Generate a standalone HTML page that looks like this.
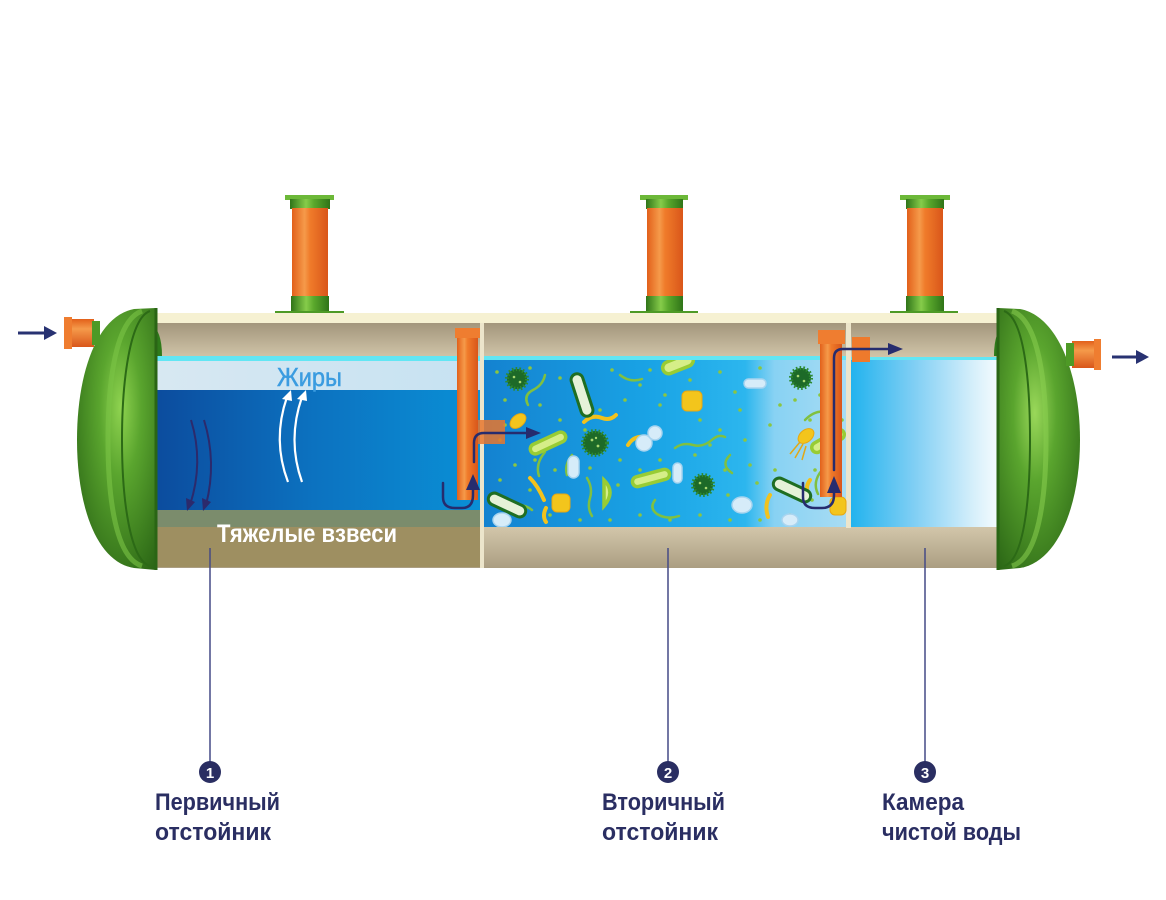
<!DOCTYPE html>
<html>
<head>
<meta charset="utf-8">
<style>
html,body{margin:0;padding:0;background:#fff;}
svg{display:block;}
</style>
</head>
<body>
<svg width="1166" height="900" viewBox="0 0 1166 900" xmlns="http://www.w3.org/2000/svg">
<defs>
  <linearGradient id="wallTop" x1="0" y1="0" x2="0" y2="1">
    <stop offset="0" stop-color="#a3967c"/>
    <stop offset="1" stop-color="#d3c7ab"/>
  </linearGradient>
  <linearGradient id="wallBot" x1="0" y1="0" x2="0" y2="1">
    <stop offset="0" stop-color="#d2c6aa"/>
    <stop offset="1" stop-color="#ab9e82"/>
  </linearGradient>
  <linearGradient id="w1" x1="0" y1="0" x2="1" y2="0">
    <stop offset="0" stop-color="#0c4a9c"/>
    <stop offset="0.5" stop-color="#0c72c0"/>
    <stop offset="1" stop-color="#0a90d6"/>
  </linearGradient>
  <linearGradient id="fat" x1="0" y1="0" x2="1" y2="0">
    <stop offset="0" stop-color="#d8e8f2"/>
    <stop offset="1" stop-color="#c6e2f2"/>
  </linearGradient>
  <linearGradient id="w2" x1="0" y1="0" x2="1" y2="0">
    <stop offset="0" stop-color="#1482d0"/>
    <stop offset="0.45" stop-color="#19a3e5"/>
    <stop offset="0.72" stop-color="#2cb6ee"/>
    <stop offset="0.8" stop-color="#88d2f3"/>
    <stop offset="1" stop-color="#a8dcf3"/>
  </linearGradient>
  <linearGradient id="w3" x1="0" y1="0" x2="1" y2="0">
    <stop offset="0" stop-color="#22b3ee"/>
    <stop offset="0.4" stop-color="#7ecef4"/>
    <stop offset="0.8" stop-color="#d8f0fb"/>
    <stop offset="1" stop-color="#ffffff"/>
  </linearGradient>
  <linearGradient id="orV" x1="0" y1="0" x2="1" y2="0">
    <stop offset="0" stop-color="#e2601a"/>
    <stop offset="0.35" stop-color="#f59a4a"/>
    <stop offset="0.5" stop-color="#f07b2a"/>
    <stop offset="1" stop-color="#d9561a"/>
  </linearGradient>
  <linearGradient id="orH" x1="0" y1="0" x2="0" y2="1">
    <stop offset="0" stop-color="#e2601a"/>
    <stop offset="0.35" stop-color="#f59a4a"/>
    <stop offset="1" stop-color="#d9561a"/>
  </linearGradient>
  <linearGradient id="grV" x1="0" y1="0" x2="1" y2="0">
    <stop offset="0" stop-color="#2f7418"/>
    <stop offset="0.4" stop-color="#86cc4a"/>
    <stop offset="0.6" stop-color="#5aa82c"/>
    <stop offset="1" stop-color="#2f7418"/>
  </linearGradient>
  <radialGradient id="capL" cx="0.55" cy="0.38" r="0.75">
    <stop offset="0" stop-color="#8fd350"/>
    <stop offset="0.35" stop-color="#5aa52e"/>
    <stop offset="1" stop-color="#2a6515"/>
  </radialGradient>
  <radialGradient id="capR" cx="0.45" cy="0.4" r="0.75">
    <stop offset="0" stop-color="#9ad85a"/>
    <stop offset="0.35" stop-color="#5aa52e"/>
    <stop offset="1" stop-color="#2a6515"/>
  </radialGradient>
  <clipPath id="c2"><rect x="484" y="360" width="363" height="167"/></clipPath>
</defs>

<!-- ===== top pipes ===== -->
<g>
  <rect x="285" y="195" width="49" height="5" fill="#6cb838"/>
  <rect x="290" y="199" width="40" height="10" fill="url(#grV)"/>
  <rect x="292" y="208" width="36" height="90" fill="url(#orV)"/>
  <rect x="291" y="296" width="38" height="17" fill="url(#grV)"/>
  <rect x="275" y="311" width="69" height="7" fill="#4e9a26"/>

  <rect x="640" y="195" width="48" height="5" fill="#6cb838"/>
  <rect x="646" y="199" width="37" height="10" fill="url(#grV)"/>
  <rect x="647" y="208" width="36" height="90" fill="url(#orV)"/>
  <rect x="646" y="296" width="37" height="17" fill="url(#grV)"/>
  <rect x="630" y="311" width="68" height="7" fill="#4e9a26"/>

  <rect x="900" y="195" width="50" height="5" fill="#6cb838"/>
  <rect x="906" y="199" width="38" height="10" fill="url(#grV)"/>
  <rect x="907" y="208" width="36" height="90" fill="url(#orV)"/>
  <rect x="906" y="296" width="38" height="17" fill="url(#grV)"/>
  <rect x="890" y="311" width="68" height="7" fill="#4e9a26"/>
</g>

<!-- ===== tank body ===== -->
<rect x="140" y="313" width="870" height="10" fill="#f6f1d2"/>
<rect x="140" y="323" width="870" height="36" fill="url(#wallTop)"/>
<rect x="140" y="527" width="870" height="41" fill="url(#wallBot)"/>

<!-- chamber 1 -->
<rect x="148" y="356" width="332" height="5" fill="#62e6f4"/>
<rect x="148" y="361" width="332" height="29" fill="url(#fat)"/>
<rect x="148" y="390" width="332" height="120" fill="url(#w1)"/>
<rect x="148" y="510" width="332" height="17" fill="#7b8c6c"/>
<rect x="148" y="527" width="332" height="40" fill="#9e8f61"/>

<!-- chamber 2 -->
<rect x="484" y="356" width="363" height="5" fill="#62e6f4"/>
<rect x="484" y="360" width="363" height="167" fill="url(#w2)"/>

<!-- chamber 3 -->
<rect x="851" y="357" width="155" height="4" fill="#62e6f4"/>
<rect x="851" y="360" width="155" height="167" fill="url(#w3)"/>

<!-- partitions -->
<rect x="480" y="323" width="4" height="245" fill="#ece5cb"/>
<rect x="846" y="323" width="5" height="205" fill="#ece5cb"/>

<!-- ===== bacteria in chamber 2 ===== -->
<g clip-path="url(#c2)">
  <g fill="#8cc63f">
    <circle cx="497" cy="372" r="1.8"/><circle cx="530" cy="368" r="1.8"/><circle cx="560" cy="378" r="1.8"/>
    <circle cx="612" cy="370" r="1.8"/><circle cx="640" cy="385" r="1.8"/><circle cx="720" cy="372" r="1.8"/>
    <circle cx="735" cy="392" r="1.8"/><circle cx="760" cy="368" r="1.8"/><circle cx="780" cy="405" r="1.8"/>
    <circle cx="770" cy="425" r="1.8"/><circle cx="745" cy="440" r="1.8"/><circle cx="720" cy="430" r="1.8"/>
    <circle cx="700" cy="420" r="1.8"/><circle cx="660" cy="405" r="1.8"/><circle cx="625" cy="400" r="1.8"/>
    <circle cx="600" cy="410" r="1.8"/><circle cx="540" cy="405" r="1.8"/><circle cx="505" cy="400" r="1.8"/>
    <circle cx="500" cy="440" r="1.8"/><circle cx="515" cy="465" r="1.8"/><circle cx="530" cy="490" r="1.8"/>
    <circle cx="555" cy="470" r="1.8"/><circle cx="590" cy="468" r="1.8"/><circle cx="620" cy="460" r="1.8"/>
    <circle cx="660" cy="460" r="1.8"/><circle cx="695" cy="455" r="1.8"/><circle cx="725" cy="470" r="1.8"/>
    <circle cx="750" cy="465" r="1.8"/><circle cx="775" cy="470" r="1.8"/><circle cx="815" cy="470" r="1.8"/>
    <circle cx="812" cy="500" r="1.8"/><circle cx="790" cy="515" r="1.8"/><circle cx="760" cy="520" r="1.8"/>
    <circle cx="730" cy="520" r="1.8"/><circle cx="700" cy="515" r="1.8"/><circle cx="670" cy="520" r="1.8"/>
    <circle cx="640" cy="515" r="1.8"/><circle cx="610" cy="520" r="1.8"/><circle cx="580" cy="520" r="1.8"/>
    <circle cx="550" cy="515" r="1.8"/><circle cx="640" cy="470" r="1.8"/><circle cx="665" cy="395" r="1.8"/>
    <circle cx="710" cy="445" r="1.8"/><circle cx="740" cy="410" r="1.8"/><circle cx="795" cy="400" r="1.8"/>
    <circle cx="820" cy="395" r="1.8"/><circle cx="500" cy="480" r="1.8"/><circle cx="585" cy="430" r="1.8"/>
    <circle cx="560" cy="420" r="1.8"/><circle cx="690" cy="380" r="1.8"/><circle cx="650" cy="370" r="1.8"/>
    <circle cx="618" cy="485" r="1.8"/><circle cx="728" cy="495" r="1.8"/><circle cx="757" cy="483" r="1.8"/>
    <circle cx="505" cy="425" r="1.8"/><circle cx="535" cy="460" r="1.8"/><circle cx="810" cy="420" r="1.8"/>
    <circle cx="840" cy="470" r="1.8"/><circle cx="842" cy="420" r="1.8"/>
  </g>
  <g fill="none" stroke="#80c040" stroke-width="2.5" stroke-linecap="round">
    <path d="M528,405 q-5,-10 5,-15 q10,-5 12,-15"/>
    <path d="M675,448 q8,-6 18,-3 q10,3 20,-6 q6,-5 12,-2"/>
    <path d="M655,500 q-6,8 2,14 q10,6 22,2"/>
    <path d="M572,455 q-8,10 -5,20"/>
    <path d="M587,478 q6,10 3,20 q-3,10 2,18"/>
    <path d="M512,508 q10,-6 20,2"/>
    <path d="M805,420 q10,-10 20,-8 q8,2 4,12"/>
    <path d="M822,470 q-10,12 -4,24"/>
    <path d="M620,375 q10,8 22,4"/>
    <path d="M545,452 q-10,12 -6,24"/>
    <path d="M730,455 q-10,10 2,18"/>
  </g>
  <g fill="none" stroke="#f2c21c" stroke-width="4" stroke-linecap="round">
    <path d="M584,422 q8,-8 18,-4 q8,3 14,-3"/>
    <path d="M628,445 q6,-10 18,-8"/>
    <path d="M530,478 q8,8 14,22"/>
    <path d="M770,495 q-6,10 -2,22"/>
    <path d="M810,480 q-6,8 0,16"/>
    <path d="M546,508 q-4,8 0,14"/>
  </g>
  <g>
    <circle cx="517" cy="379" r="10" fill="#1d6a28" stroke="#2e8a30" stroke-width="4" stroke-dasharray="1.5 2"/>
    <circle cx="595" cy="443" r="12" fill="#1d6a28" stroke="#2e8a30" stroke-width="4" stroke-dasharray="1.5 2"/>
    <circle cx="703" cy="485" r="10" fill="#1d6a28" stroke="#2e8a30" stroke-width="4" stroke-dasharray="1.5 2"/>
    <circle cx="801" cy="378" r="10" fill="#1d6a28" stroke="#2e8a30" stroke-width="4" stroke-dasharray="1.5 2"/>
    <g fill="#a8d870">
      <circle cx="514" cy="377" r="1.3"/><circle cx="520" cy="382" r="1.3"/>
      <circle cx="592" cy="440" r="1.4"/><circle cx="598" cy="446" r="1.4"/><circle cx="596" cy="438" r="1.2"/>
      <circle cx="700" cy="483" r="1.3"/><circle cx="706" cy="488" r="1.3"/>
      <circle cx="798" cy="376" r="1.3"/><circle cx="804" cy="381" r="1.3"/>
    </g>
  </g>
  <g>
    <rect x="-22" y="-6" width="44" height="12" rx="6" fill="#e6f2d8" stroke="#1f6e22" stroke-width="3" transform="translate(582,395) rotate(72)"/>
    <rect x="-20" y="-6" width="40" height="12" rx="6" fill="#e6f2d8" stroke="#1f6e22" stroke-width="3" transform="translate(507,505) rotate(25)"/>
    <rect x="-20" y="-6" width="40" height="12" rx="6" fill="#e6f2d8" stroke="#1f6e22" stroke-width="3" transform="translate(792,490) rotate(25)"/>
  </g>
  <g fill="#d6ee88" stroke="#98cc34" stroke-width="3.5">
    <rect x="-19" y="-5" width="38" height="10" rx="5" transform="translate(548,443) rotate(-25)"/>
    <rect x="-19" y="-5" width="38" height="10" rx="5" transform="translate(651,478) rotate(-15)"/>
    <rect x="-16" y="-6" width="32" height="12" rx="6" transform="translate(678,364) rotate(-22)"/>
    <rect x="-18" y="-5" width="36" height="10" rx="5" transform="translate(828,441) rotate(-30)"/>
    <path d="M604,480 q12,12 0,26 z"/>
  </g>
  <g fill="#f3c51c" stroke="#e8a810" stroke-width="1">
    <rect x="682" y="391" width="20" height="20" rx="5"/>
    <rect x="552" y="494" width="18" height="18" rx="5"/>
    <rect x="830" y="497" width="16" height="18" rx="5"/>
    <ellipse cx="518" cy="421" rx="9" ry="6" transform="rotate(-40 518 421)"/>
    <ellipse cx="806" cy="436" rx="9" ry="6" transform="rotate(-40 806 436)"/>
  </g>
  <g fill="none" stroke="#e0a818" stroke-width="1.5">
    <path d="M800,442 l-10,12 M803,444 l-8,14 M806,446 l-4,14"/>
  </g>
  <g fill="#d6ecf9" stroke="#a8d4ef" stroke-width="1.5">
    <circle cx="644" cy="443" r="8"/><circle cx="655" cy="433" r="7"/>
    <rect x="568" y="456" width="11" height="22" rx="5.5"/>
    <rect x="673" y="463" width="9" height="20" rx="4.5"/>
    <ellipse cx="742" cy="505" rx="10" ry="8"/>
    <rect x="744" y="379" width="22" height="9" rx="4.5"/>
    <ellipse cx="502" cy="520" rx="9" ry="7"/>
    <ellipse cx="790" cy="520" rx="8" ry="6"/>
  </g>
</g>

<!-- ===== baffle pipes ===== -->
<rect x="475" y="420" width="30" height="24" fill="#e8772e" opacity="0.85"/>
<rect x="457" y="328" width="21" height="172" fill="url(#orV)"/>
<rect x="455" y="328" width="25" height="10" fill="#ef7d30"/>
<rect x="852" y="337" width="18" height="25" fill="#ee7a2c"/>
<rect x="820" y="330" width="22" height="167" fill="url(#orV)"/>
<rect x="818" y="330" width="27" height="14" fill="#ef7d30"/>

<g fill="none" stroke="#262c6e" stroke-width="2.5" stroke-linecap="round" stroke-linejoin="round">
  <path d="M443,483 L443,497 Q443,508 455,508 L462,508 Q473,508 473,495 L473,488"/>
  <path d="M474,462 L474,443 Q474,433 484,433 L528,433"/>
  <path d="M803,483 L803,497 Q803,508 815,508 L822,508 Q834,508 834,495 L834,490"/>
  <path d="M834,470 L834,358 Q834,349 843,349 L890,349"/>
</g>
<g fill="#262c6e">
  <polygon points="473,474 466,490 480,490"/>
  <polygon points="541,433 526,427 526,439"/>
  <polygon points="834,476 827,493 841,493"/>
  <polygon points="903,349 888,343 888,355"/>
</g>

<g fill="none" stroke="#2c2a6c" stroke-width="2">
  <path d="M191,420 Q204,462 190,505"/>
  <path d="M204,420 Q217,462 206,505"/>
</g>
<g fill="#2c2a6c">
  <polygon points="187,511 186,498 195,502"/>
  <polygon points="203,511 202,498 211,502"/>
</g>
<g fill="none" stroke="#ffffff" stroke-width="2.2">
  <path d="M288,482 Q272,440 287,397"/>
  <path d="M302,482 Q287,440 302,397"/>
</g>
<g fill="#ffffff">
  <polygon points="291,390 282,399 292,401"/>
  <polygon points="306,390 297,399 307,401"/>
</g>

<text x="277" y="386" font-family="Liberation Sans, sans-serif" font-size="26" fill="#3b9ce0" stroke="#3b9ce0" stroke-width="0.5" textLength="65" lengthAdjust="spacingAndGlyphs">Жиры</text>
<text x="217" y="542" font-family="Liberation Sans, sans-serif" font-size="25" font-weight="bold" fill="#ffffff" textLength="180" lengthAdjust="spacingAndGlyphs">Тяжелые взвеси</text>

<!-- ===== end caps ===== -->
<path d="M150,323 Q162,330 162,356 L150,356 Z" fill="#2f7a1a"/>
<path d="M156,308 L134,309 C96,316 77,375 77,440 C77,505 96,562 134,568 L156,570 Z" fill="url(#capL)"/>
<path d="M150,311 C130,318 122,380 122,440 C122,500 130,560 150,566" fill="none" stroke="#2c6a16" stroke-width="2"/>
<path d="M142,311 C116,320 108,380 108,440 C108,500 116,558 142,566" fill="none" stroke="#7cc446" stroke-width="5" opacity="0.6"/>
<path d="M156,308 L156,570" stroke="#2a6515" stroke-width="3"/>

<path d="M1006,323 Q994,330 994,356 L1006,356 Z" fill="#2f7a1a"/>
<path d="M998,308 L1020,309 C1058,316 1080,375 1080,440 C1080,505 1058,562 1020,568 L998,570 Z" fill="url(#capR)"/>
<path d="M1004,311 C1024,318 1030,380 1030,440 C1030,500 1024,560 1004,566" fill="none" stroke="#2c6a16" stroke-width="2"/>
<path d="M1012,311 C1038,320 1046,380 1046,440 C1046,500 1038,558 1012,566" fill="none" stroke="#8ad050" stroke-width="5" opacity="0.55"/>
<path d="M998,308 L998,570" stroke="#2a6515" stroke-width="3"/>

<rect x="64" y="319" width="30" height="28" fill="url(#orH)"/>
<rect x="64" y="317" width="8" height="32" fill="#ef7d30"/>
<rect x="92" y="321" width="8" height="24" fill="#4e9a26"/>
<rect x="1072" y="341" width="28" height="27" fill="url(#orH)"/>
<rect x="1094" y="339" width="7" height="31" fill="#ef7d30"/>
<rect x="1066" y="343" width="8" height="23" fill="#4e9a26"/>

<line x1="18" y1="333" x2="47" y2="333" stroke="#283272" stroke-width="3"/>
<polygon points="57,333 44,326 44,340" fill="#283272"/>
<line x1="1112" y1="357" x2="1138" y2="357" stroke="#283272" stroke-width="3"/>
<polygon points="1149,357 1136,350 1136,364" fill="#283272"/>

<!-- ===== leader lines & labels ===== -->
<g stroke="#454a86" stroke-width="1.5">
  <line x1="210" y1="548" x2="210" y2="762"/>
  <line x1="668" y1="548" x2="668" y2="762"/>
  <line x1="925" y1="548" x2="925" y2="762"/>
</g>
<g fill="#2a2e62">
  <circle cx="210" cy="772" r="11"/>
  <circle cx="668" cy="772" r="11"/>
  <circle cx="925" cy="772" r="11"/>
</g>
<g font-family="Liberation Sans, sans-serif" font-weight="bold" font-size="15" fill="#ffffff" text-anchor="middle">
  <text x="210" y="778">1</text>
  <text x="668" y="778">2</text>
  <text x="925" y="778">3</text>
</g>
<g font-family="Liberation Sans, sans-serif" font-weight="bold" font-size="24" fill="#2a2e62">
  <text x="155" y="810" textLength="125" lengthAdjust="spacingAndGlyphs">Первичный</text>
  <text x="155" y="840" textLength="116" lengthAdjust="spacingAndGlyphs">отстойник</text>
  <text x="602" y="810" textLength="123" lengthAdjust="spacingAndGlyphs">Вторичный</text>
  <text x="602" y="840" textLength="116" lengthAdjust="spacingAndGlyphs">отстойник</text>
  <text x="882" y="810" textLength="82" lengthAdjust="spacingAndGlyphs">Камера</text>
  <text x="882" y="840" textLength="139" lengthAdjust="spacingAndGlyphs">чистой воды</text>
</g>
</svg>
</body>
</html>
